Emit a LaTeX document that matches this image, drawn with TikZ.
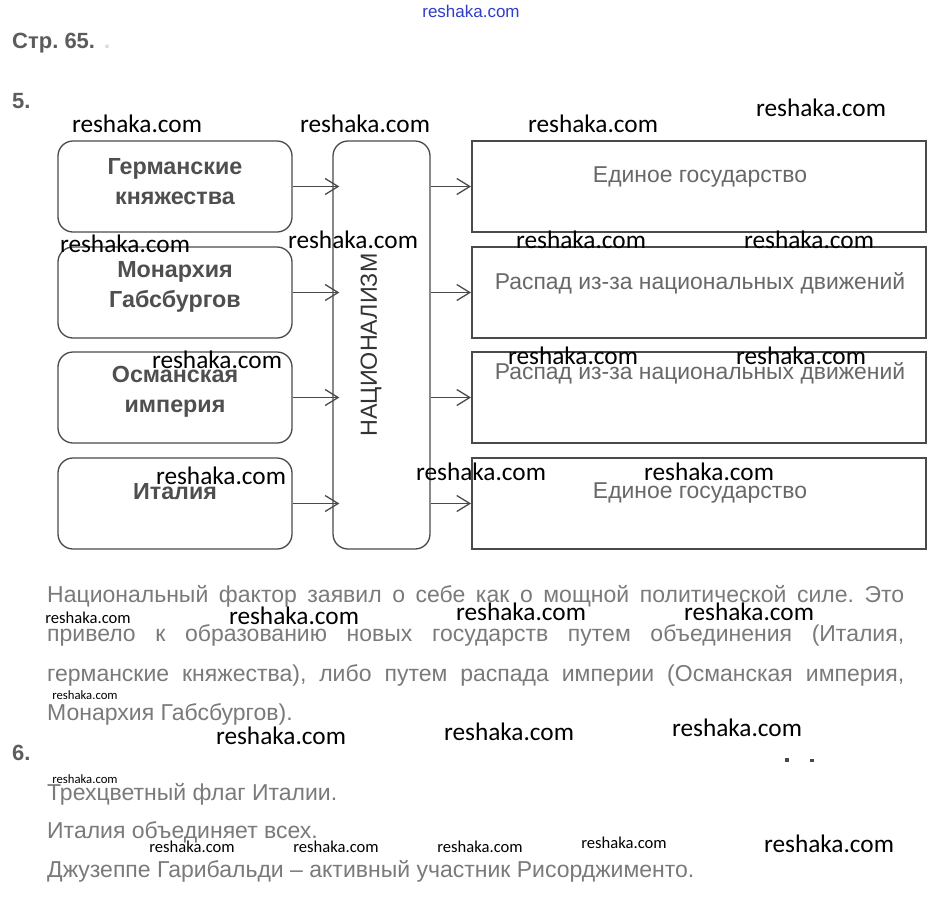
\documentclass[tikz,border=0pt]{standalone}
\usepackage{fontspec}
\setmainfont{Liberation Sans}
\newfontfamily\carlito{Carlito}
\usetikzlibrary{arrows.meta, positioning}
\definecolor{bordo}{HTML}{4A4A4A}
\definecolor{scritta}{HTML}{4F4F4F}
\definecolor{corpogrigio}{HTML}{7A7A7A}
\definecolor{blureshaka}{HTML}{2E3ECC}
\frenchspacing
\tikzset{
  scatola/.style = {draw=bordo, line width=1.3pt, rounded corners=15pt, minimum width=234pt, minimum height=91pt, inner sep=0pt},
  esito/.style = {draw=bordo, line width=2pt, minimum width=454pt, minimum height=91pt, inner sep=0pt},
  freccia/.style = {draw=bordo, line width=1.3pt, -{Straight Barb[length=13pt, width=16pt, line width=1.3pt]}},
  testosx/.style = {font=\bfseries\fontsize{23.3}{30}\selectfont, text=scritta, align=center, inner sep=0pt},
  testodx/.style = {font=\fontsize{22.9}{26}\selectfont, text=corpogrigio!85!black, inner sep=0pt},
  corpo/.style = {font=\fontsize{23}{26}\selectfont, text=corpogrigio, anchor=base west, inner sep=0pt},
  titolo/.style = {font=\bfseries\fontsize{22}{26}\selectfont, text=bordo!90, anchor=base west, inner sep=0pt},
  filigrana/.style = {font=\carlito\fontsize{25.3}{26}\selectfont, text=black, anchor=base, inner sep=0pt},
  filigranina/.style = {font=\carlito\fontsize{16.6}{17}\selectfont, text=black, anchor=base, inner sep=0pt},
  filigranetta/.style = {font=\carlito\fontsize{12.7}{13}\selectfont, text=black, anchor=base, inner sep=0pt}
}
\begin{document}
\begin{tikzpicture}[x=1pt, y=-1pt]
    % parametri
    \pgfmathsetmacro{\largo}{857}
    % Cornice
    \useasboundingbox[fill=white] (0,0) rectangle (939,897);
    % Intestazione
    \node[font=\fontsize{17}{17}\selectfont, text=blureshaka, inner sep=0pt] (sito) at (471,11) {reshaka.com};
    \node[titolo] (pagina) at (12,48) {Стр. 65.};
    \node[titolo, text=black!15] (puntino) at (104,48) {.};
    \node[titolo] (es5) at (12,108) {5.};
    % Scatole di sinistra
    \node[scatola] (germania) at (175,186.5) {};
    \node[scatola] (asburgo) at (175,292.5) {};
    \node[scatola] (ottomano) at (175,397.5) {};
    \node[scatola] (italia) at (175,503.5) {};
    \node[testosx] (tgermania) at (175,182) {Германские\\княжества};
    \node[testosx] (tasburgo) at (175,287) {Монархия\\Габсбургов};
    \node[testosx] (tottomano) at (175,392) {Османская\\империя};
    \node[testosx] (titalia) at (175,492) {Италия};
    % Nazionalismo
    \node[draw=bordo, line width=1.3pt, rounded corners=15pt, minimum width=97pt, minimum height=408pt, inner sep=0pt] (naz) at (381.5,345) {};
    \node[font=\fontsize{23.3}{26}\selectfont, text=black!80, rotate=90, inner sep=0pt] (tnaz) at (371,345) {НАЦИОНАЛИЗМ};
    % Scatole di destra
    \node[esito] (unita1) at (699,186.5) {};
    \node[esito] (crollo1) at (699,292.5) {};
    \node[esito] (crollo2) at (699,397.5) {};
    \node[esito] (unita2) at (699,503.5) {};
    \node[testodx] (tunita1) at (700,177) {Единое государство};
    \node[testodx] (tcrollo1) at (700,283) {Распад из-за национальных движений};
    \node[testodx] (tcrollo2) at (700,373) {Распад из-за национальных движений};
    \node[testodx] (tunita2) at (700,493) {Единое государство};
    % Frecce verso il nazionalismo
    \draw[freccia, shorten >=-7pt] (germania.east) -- (naz.west |- germania.east);
    \draw[freccia, shorten >=-7pt] (asburgo.east) -- (naz.west |- asburgo.east);
    \draw[freccia, shorten >=-7pt] (ottomano.east) -- (naz.west |- ottomano.east);
    \draw[freccia, shorten >=-7pt] (italia.east) -- (naz.west |- italia.east);
    % Frecce verso gli esiti
    \draw[freccia] (naz.east |- unita1.west) -- (unita1.west);
    \draw[freccia] (naz.east |- crollo1.west) -- (crollo1.west);
    \draw[freccia] (naz.east |- crollo2.west) -- (crollo2.west);
    \draw[freccia] (naz.east |- unita2.west) -- (unita2.west);
    % Testo dell'esercizio 5
    \node[corpo] (riga1) at (47,602) {\makebox[\largo pt][s]{Национальный фактор заявил о себе как о мощной политической силе. Это}};
    \node[corpo] (riga2) at (47,641) {\makebox[\largo pt][s]{привело к образованию новых государств путем объединения (Италия,}};
    \node[corpo] (riga3) at (47,681) {\makebox[\largo pt][s]{германские княжества), либо путем распада империи (Османская империя,}};
    \node[corpo] (riga4) at (47,720) {Монархия Габсбургов).};
    % Esercizio 6
    \node[titolo] (es6) at (12,760) {6.};
    \node[corpo] (risp1) at (47,800) {Трехцветный флаг Италии.};
    \node[corpo] (risp2) at (47,838) {Италия объединяет всех.};
    \node[corpo] (risp3) at (47,877) {Джузеппе Гарибальди – активный участник Рисорджименто.};
    % puntini
    \fill[bordo] (785,758) rectangle (789,762);
    \fill[bordo] (810,759) rectangle (814,762);
    % Filigrane
    \node[filigrana] (f1) at (137,132) {reshaka.com};
    \node[filigrana] (f2) at (365,132) {reshaka.com};
    \node[filigrana] (f3) at (593,132) {reshaka.com};
    \node[filigrana] (f4) at (821,116) {reshaka.com};
    \node[filigrana] (f5) at (125,252) {reshaka.com};
    \node[filigrana] (f6) at (353,248) {reshaka.com};
    \node[filigrana] (f7) at (581,248) {reshaka.com};
    \node[filigrana] (f8) at (809,248) {reshaka.com};
    \node[filigrana] (f9) at (217,368) {reshaka.com};
    \node[filigrana] (f10) at (573,364) {reshaka.com};
    \node[filigrana] (f11) at (801,364) {reshaka.com};
    \node[filigrana] (f12) at (221,484) {reshaka.com};
    \node[filigrana] (f13) at (481,480) {reshaka.com};
    \node[filigrana] (f14) at (709,480) {reshaka.com};
    \node[filigrana] (f15) at (294,624) {reshaka.com};
    \node[filigrana] (f16) at (521,620) {reshaka.com};
    \node[filigrana] (f17) at (749,620) {reshaka.com};
    \node[filigrana] (f18) at (281,744) {reshaka.com};
    \node[filigrana] (f19) at (509,740) {reshaka.com};
    \node[filigrana] (f20) at (737,736) {reshaka.com};
    \node[filigrana] (f21) at (829,852) {reshaka.com};
    \node[filigranina] (p1) at (88,623) {reshaka.com};
    \node[filigranetta] (p2) at (85,699) {reshaka.com};
    \node[filigranetta] (p3) at (85,783) {reshaka.com};
    \node[filigranina] (p4) at (192,852) {reshaka.com};
    \node[filigranina] (p5) at (336,852) {reshaka.com};
    \node[filigranina] (p6) at (480,852) {reshaka.com};
    \node[filigranina] (p7) at (624,848) {reshaka.com};
\end{tikzpicture}
\end{document}
